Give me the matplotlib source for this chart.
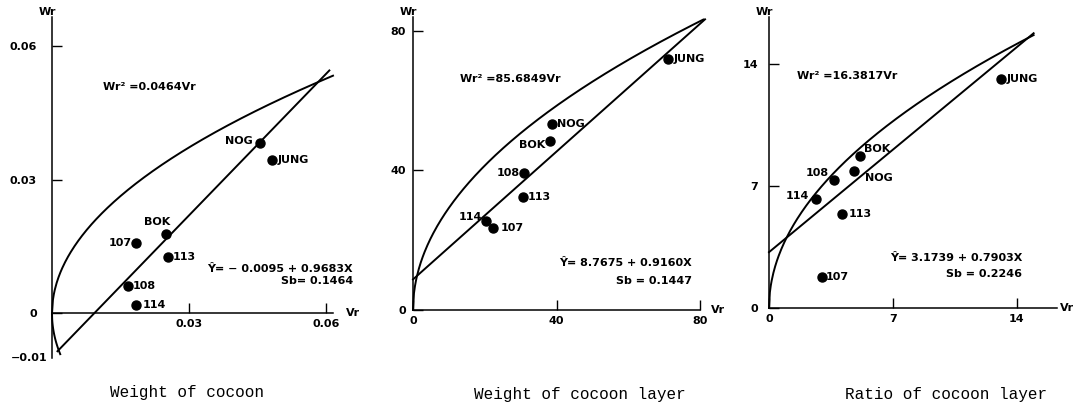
import numpy as np
import matplotlib
matplotlib.use("Agg")
import matplotlib.pyplot as plt

# ---- data ----
labels = ["NOG", "JUNG", "BOK", "107", "113", "108", "114"]

cocoon_vr = [0.0455, 0.0481, 0.0249, 0.0184, 0.0253, 0.0167, 0.0184]
cocoon_wr = [0.0383, 0.0345, 0.0179, 0.0158, 0.0127, 0.0061, 0.0018]
cocoon_k = 0.0464
cocoon_line = (-0.00975, 1.06)  # intercept, slope as drawn

layer_vr = [38.7, 71.2, 38.2, 22.4, 30.7, 30.9, 20.3]
layer_wr = [53.3, 71.9, 48.5, 23.4, 32.5, 39.2, 25.6]
layer_k = 85.6849
layer_line = (8.77, 0.916)

ratio_vr = [4.81, 13.09, 5.13, 2.97, 4.13, 3.68, 2.64]
ratio_wr = [7.83, 13.12, 8.74, 1.75, 5.40, 7.35, 6.24]
ratio_k = 16.3817
ratio_line = (3.2, 0.84)

fig_w, fig_h = 1077, 405
fig = plt.figure(figsize=(fig_w / 100, fig_h / 100), dpi=100)

BOLD = dict(fontsize=8, fontweight="bold", family="DejaVu Sans")


def px_axes(left, right, top, bottom):
    return fig.add_axes([left / fig_w, 1 - bottom / fig_h,
                         (right - left) / fig_w, (bottom - top) / fig_h])


def setup(ax, xlim, ylim, xticks, xlabels, yticks, ylabels, ypad, vr_off):
    ax.set_xlim(*xlim)
    ax.set_ylim(*ylim)
    for s in ["top", "right"]:
        ax.spines[s].set_visible(False)
    ax.spines["bottom"].set_position(("data", 0))
    for s in ["left", "bottom"]:
        ax.spines[s].set_linewidth(1.1)
    ax.set_xticks(xticks)
    ax.set_xticklabels(xlabels, **BOLD)
    ax.set_yticks(yticks)
    ax.set_yticklabels(ylabels, **BOLD)
    ax.tick_params(axis="both", direction="in", length=7, width=1.0)
    ax.tick_params(axis="y", pad=ypad)
    ax.tick_params(axis="x", pad=4)
    ax.patch.set_alpha(0)
    ax.text(-0.015, 1.0, "Wr", transform=ax.transAxes, ha="center",
            va="bottom", **BOLD)
    ax.annotate("Vr", (1.0, 0), xycoords=("axes fraction", "data"),
                xytext=(vr_off, 0), textcoords="offset points",
                ha="left", va="center", **BOLD)


def draw(ax, vr, wr, k, line, xend, x0, lend, offsets):
    xs = np.linspace(0, xend, 300)
    ax.plot(xs, np.sqrt(k * xs), color="black", lw=1.4, clip_on=False)
    b, m = line
    lx = np.array([x0, lend])
    ax.plot(lx, b + m * lx, color="black", lw=1.4, clip_on=False)
    ax.plot(vr, wr, "o", color="black", ms=6.5, clip_on=False)
    for lab, x, y in zip(labels, vr, wr):
        ha, dx, dy = offsets[lab]
        ax.annotate(lab, (x, y), xytext=(dx, dy), textcoords="offset points",
                    ha=ha, va="center", **BOLD)


# panel 1 : weight of cocoon
ax1 = px_axes(52, 333, 17, 358)
setup(ax1, (0, 0.0615), (-0.01, 0.0666), [0.03, 0.06], ["0.03", "0.06"],
      [0, 0.03, 0.06], ["0", "0.03", "0.06"], 11, 9)
ax1.annotate("\u22120.01", (0, -0.01), xytext=(-3, 0),
             textcoords="offset points", ha="right", va="center", **BOLD)
draw(ax1, cocoon_vr, cocoon_wr, cocoon_k, cocoon_line, 0.0615, 0.0012, 0.0607,
     {"NOG": ("right", -5, 1.5), "JUNG": ("left", 4.5, 0),
      "BOK": ("center", -6, 8.5), "107": ("right", -3, 0),
      "113": ("left", 4, 0), "108": ("left", 3.5, 0), "114": ("left", 5, 0)})
xl = np.linspace(0, 0.0018, 50)
ax1.plot(xl, -np.sqrt(cocoon_k * xl), color="black", lw=1.4, clip_on=False)
ax1.text(0.0112, 0.0508, "Wr\u00b2 =0.0464Vr", **BOLD, va="center")
ax1.text(0.0659, 0.0101, "\u0176= \u2212 0.0095 + 0.9683X", ha="right",
         va="center", clip_on=False, **BOLD)
ax1.text(0.0659, 0.0074, "Sb= 0.1464", ha="right", va="center",
         clip_on=False, **BOLD)
fig.text(187 / fig_w, 1 - 393 / fig_h, "Weight of cocoon", ha="center",
         va="center", family="Liberation Mono", fontsize=11.5)

# panel 2 : weight of cocoon layer
ax2 = px_axes(413, 700, 17, 310)
setup(ax2, (0, 80), (0, 84), [0, 40, 80], ["0", "40", "80"],
      [0, 40, 80], ["0", "40", "80"], 5, 8)
draw(ax2, layer_vr, layer_wr, layer_k, layer_line, 80.9, 0, 81.4,
     {"NOG": ("left", 3.5, 0), "JUNG": ("left", 3.5, 0),
      "BOK": ("right", -3.5, -3), "107": ("left", 5, 0),
      "113": ("left", 3.5, 0), "108": ("right", -3, 0),
      "114": ("right", -3, 2.5)})
ax2.text(13.1, 66.2, "Wr\u00b2 =85.6849Vr", va="center", **BOLD)
ax2.text(77.8, 13.5, "\u0176= 8.7675 + 0.9160X", ha="right", va="center",
         **BOLD)
ax2.text(77.8, 8.3, "Sb = 0.1447", ha="right", va="center", **BOLD)
fig.text(580 / fig_w, 1 - 395 / fig_h, "Weight of cocoon layer", ha="center",
         va="center", family="Liberation Mono", fontsize=11.5)

# panel 3 : ratio of cocoon layer
ax3 = px_axes(769, 1057, 17, 308)
setup(ax3, (0, 16.26), (0, 16.68), [0, 7, 14], ["0", "7", "14"],
      [0, 7, 14], ["0", "7", "14"], 8, 2)
draw(ax3, ratio_vr, ratio_wr, ratio_k, ratio_line, 14.94, 0, 14.94,
     {"NOG": ("left", 8, -4.5), "JUNG": ("left", 4, 0),
      "BOK": ("left", 3, 5), "107": ("left", 3, 0),
      "113": ("left", 4.5, 0), "108": ("right", -4, 5),
      "114": ("right", -5, 2)})
ax3.text(1.57, 13.3, "Wr\u00b2 =16.3817Vr", va="center", **BOLD)
ax3.text(14.3, 2.88, "\u0176= 3.1739 + 0.7903X", ha="right", va="center",
         **BOLD)
ax3.text(14.3, 1.96, "Sb = 0.2246", ha="right", va="center", **BOLD)
fig.text(946 / fig_w, 1 - 395 / fig_h, "Ratio of cocoon layer", ha="center",
         va="center", family="Liberation Mono", fontsize=11.5)

fig.savefig("out.png", dpi=100, facecolor="white")
